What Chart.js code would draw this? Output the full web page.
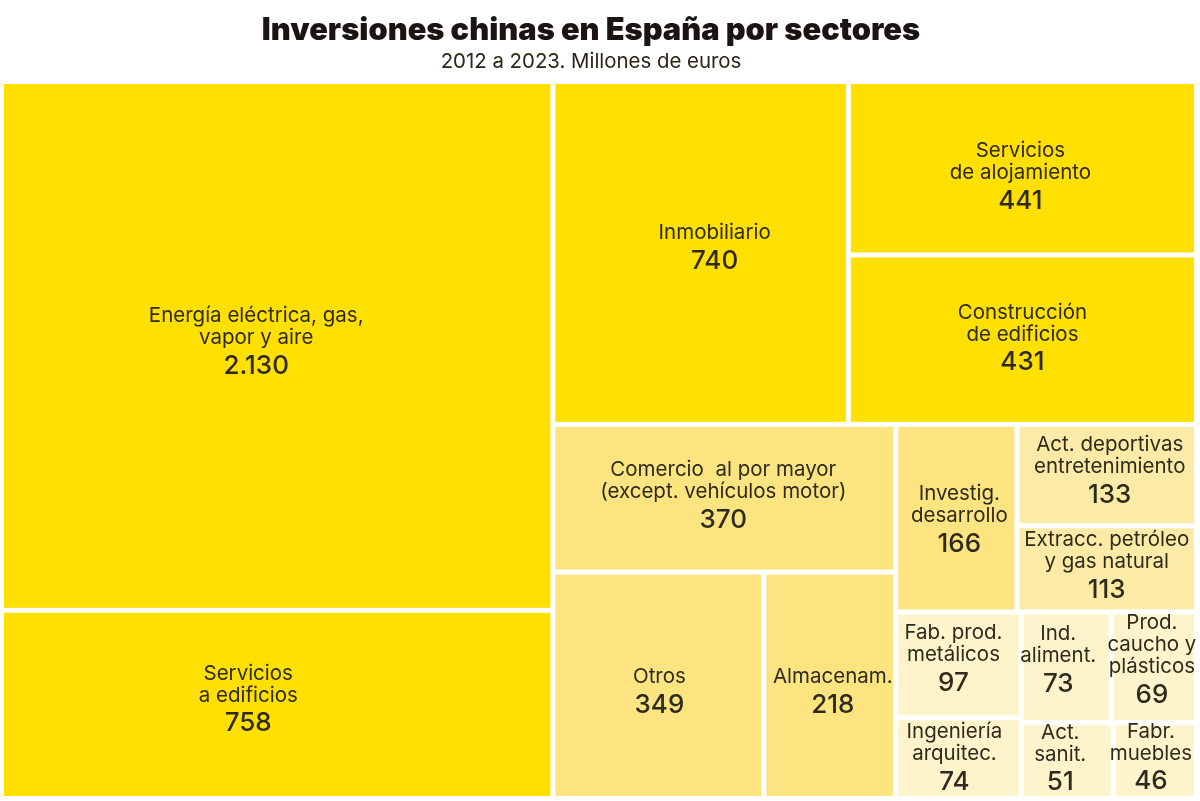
<!DOCTYPE html>
<html lang="es">
<head>
<meta charset="utf-8">
<title>Inversiones chinas en España por sectores</title>
<script src="https://cdn.jsdelivr.net/npm/chart.js@4.4.1/dist/chart.umd.min.js"></script>
<style>
    html, body { margin: 0; padding: 0; background: #fff; }
    #wrap { width: 1200px; height: 801px; position: relative; }
</style>
</head>
<body>
<div id="wrap"><canvas id="treemap"></canvas></div>
<script>
// Sectores (ordenados de mayor a menor) y millones de euros
const sectorLabels = [
    ['Energía eléctrica, gas,', 'vapor y aire'],
    ['Servicios', 'a edificios'],
    ['Inmobiliario'],
    ['Servicios', 'de alojamiento'],
    ['Construcción', 'de edificios'],
    ['Comercio  al por mayor', '(except. vehículos motor)'],
    ['Otros'],
    ['Almacenam.'],
    ['Investig.', 'desarrollo'],
    ['Act. deportivas', 'entretenimiento'],
    ['Extracc. petróleo', 'y gas natural'],
    ['Fab. prod.', 'metálicos'],
    ['Ingeniería', 'arquitec.'],
    ['Ind.', 'aliment.'],
    ['Prod.', 'caucho y', 'plásticos'],
    ['Act.', 'sanit.'],
    ['Fabr.', 'muebles']
];
const sectorValues = [2130, 758, 740, 441, 431, 370, 349, 218, 166, 133, 113, 97, 74, 73, 69, 51, 46];

const titleText = 'Inversiones chinas en España por sectores';
const subtitleText = '2012 a 2023. Millones de euros';

const formatValue = (v) => String(v).replace(/\B(?=(\d{3})+(?!\d))/g, '.');

// color por tamaño
function cellColor(v) {
    if (v >= 400) return '#FFE000';
    if (v >= 150) return '#FCE580';
    if (v >= 100) return '#FCEBA6';
    return '#FEF4CC';
}

// pequeños ajustes de las etiquetas respecto al centro de cada celda (px)
const labelNudge = [
    [-21, 1], [-29, 0], [14, 0], [-2, 14], [0, 4], [-1, 3], [1, 12], [3, 12], [3, 7],
    [3, 1], [0, 2], [-5, -1], [-4, 5], [-8, -2], [-2, -2], [-7, 3], [-4, 2]
];

// Particion binaria (como d3.treemapBinary). Se trabaja en unidades 0..1 de las escalas,
// pero la direccion del corte se decide con el tamaño real en pixeles.
function binaryLayout(values, aspect) {
    const sums = [0];
    values.forEach((v, i) => sums.push(sums[i] + v));
    const rects = new Array(values.length);

    function partition(i, j, value, x0, y0, x1, y1) {
        if (i >= j - 1) {
            rects[i] = { x0, y0, x1, y1 };
            return;
        }
        const offset = sums[i];
        const target = value / 2 + offset;
        let k = i + 1, hi = j - 1;
        while (k < hi) {
            const mid = (k + hi) >>> 1;
            if (sums[mid] < target) k = mid + 1; else hi = mid;
        }
        if ((target - sums[k - 1]) < (sums[k] - target) && i + 1 < k) --k;
        const left = sums[k] - offset;
        const right = value - left;
        // casi cuadrado -> se apila en vertical
        if ((x1 - x0) * aspect > (y1 - y0) * 1.03) {
            const xk = (x0 * right + x1 * left) / value;
            partition(i, k, left, x0, y0, xk, y1);
            partition(k, j, right, xk, y0, x1, y1);
        } else {
            const yk = (y0 * right + y1 * left) / value;
            partition(i, k, left, x0, y0, x1, yk);
            partition(k, j, right, x0, yk, x1, y1);
        }
    }
    partition(0, values.length, sums[values.length], 0, 0, 1, 1);
    return rects;
}

const headerText = {
    id: 'headerText',
    beforeDraw(chart) {
        const ctx = chart.ctx;
        ctx.save();
        ctx.textAlign = 'center';
        ctx.textBaseline = 'middle';
        ctx.fillStyle = '#1a1512';
        ctx.font = '900 30.8px Inter, "Noto Sans", sans-serif';
        ctx.fillText(titleText, 591, 31);
        ctx.fillStyle = '#2b2618';
        ctx.font = '400 20.4px Inter, "Noto Sans", sans-serif';
        ctx.fillText(subtitleText, 591, 62);
        ctx.restore();
    }
};

const treemapCells = {
    id: 'treemapCells',
    afterDatasetsDraw(chart) {
        const { ctx, chartArea, scales } = chart;
        const aspect = chartArea.width / chartArea.height;
        const rects = binaryLayout(sectorValues, aspect);
        const gap = 2.5;

        ctx.save();
        rects.forEach((r, i) => {
            const left = scales.x.getPixelForValue(r.x0) + gap;
            const right = scales.x.getPixelForValue(r.x1) - gap;
            const top = scales.y.getPixelForValue(r.y0) + gap;
            const bottom = scales.y.getPixelForValue(r.y1) - gap;
            ctx.fillStyle = cellColor(sectorValues[i]);
            ctx.fillRect(left, top, right - left, bottom - top);

            const lines = sectorLabels[i];
            const lineH = 22;
            const valueGap = 28;
            const blockH = (lines.length - 1) * lineH + valueGap + 22;
            const nudge = labelNudge[i] || [0, 0];
            const cx = (left + right) / 2 + nudge[0];
            const cy = (top + bottom) / 2 - 5 + nudge[1];
            const y = cy - blockH / 2 + 10;

            ctx.fillStyle = '#2e2a1c';
            ctx.textAlign = 'center';
            ctx.textBaseline = 'middle';
            ctx.font = '400 20.5px Inter, "Noto Sans", sans-serif';
            lines.forEach((ln, n) => {
                ctx.fillText(ln, cx, y + n * lineH);
            });
            ctx.font = '500 26px Inter, "Noto Sans", sans-serif';
            ctx.fillText(formatValue(sectorValues[i]), cx, y + (lines.length - 1) * lineH + valueGap);
        });
        ctx.restore();
    }
};

new Chart(document.getElementById('treemap'), {
    type: 'scatter',
    data: { datasets: [{ data: [], pointRadius: 0 }] },
    options: {
        responsive: true,
        maintainAspectRatio: false,
        animation: false,
        events: [],
        layout: { padding: { left: 1.5, right: 3.5, bottom: 2.5, top: 81.5 } },
        scales: {
            x: { type: 'linear', min: 0, max: 1, display: false },
            y: { type: 'linear', min: 0, max: 1, reverse: true, display: false }
        },
        plugins: {
            legend: { display: false },
            tooltip: { enabled: false },
            title: { display: false },
            subtitle: { display: false }
        }
    },
    plugins: [headerText, treemapCells]
});
</script>
</body>
</html>
